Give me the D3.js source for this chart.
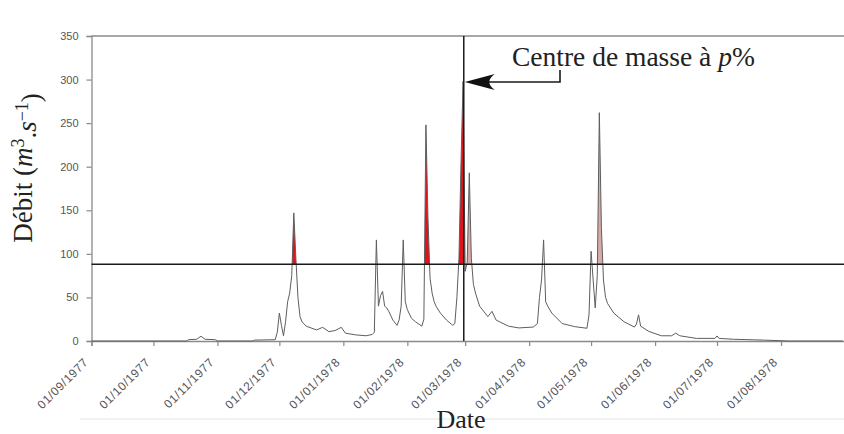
<!DOCTYPE html>
<html>
<head>
<meta charset="utf-8">
<script src="https://cdn.jsdelivr.net/npm/d3@7"></script>
<style>
  body { margin: 0; background: #fff; }
  svg { display: block; }
</style>
</head>
<body>
<svg id="chart" width="844" height="434"></svg>
<script>
// Daily discharge readings (hydrological year 1977-1978)
const flowDates = [
  "1977-09-01","1977-10-17","1977-10-18","1977-10-22","1977-10-24","1977-10-26","1977-10-31","1977-11-01",
  "1977-11-18","1977-11-19","1977-11-29","1977-11-30","1977-12-01","1977-12-02","1977-12-03","1977-12-04",
  "1977-12-05","1977-12-06","1977-12-07","1977-12-08","1977-12-09","1977-12-10","1977-12-11","1977-12-12",
  "1977-12-14","1977-12-19","1977-12-22","1977-12-25","1977-12-28","1977-12-31","1978-01-02","1978-01-07",
  "1978-01-12","1978-01-15","1978-01-16","1978-01-17","1978-01-18","1978-01-19","1978-01-20","1978-01-21",
  "1978-01-22","1978-01-23","1978-01-25","1978-01-27","1978-01-28","1978-01-29","1978-01-30","1978-01-31",
  "1978-02-01","1978-02-03","1978-02-05","1978-02-08","1978-02-09","1978-02-10","1978-02-11","1978-02-12",
  "1978-02-13","1978-02-14","1978-02-15","1978-02-17","1978-02-20","1978-02-23","1978-02-24","1978-02-25",
  "1978-02-26","1978-02-27","1978-02-28","1978-03-01","1978-03-02","1978-03-03","1978-03-04","1978-03-05",
  "1978-03-06","1978-03-08","1978-03-12","1978-03-14","1978-03-16","1978-03-22","1978-03-27","1978-04-03",
  "1978-04-05","1978-04-06","1978-04-07","1978-04-08","1978-04-09","1978-04-10","1978-04-12","1978-04-17",
  "1978-04-23","1978-04-29","1978-04-30","1978-05-01","1978-05-02","1978-05-03","1978-05-04","1978-05-05",
  "1978-05-06","1978-05-07","1978-05-08","1978-05-09","1978-05-12","1978-05-17","1978-05-22","1978-05-23",
  "1978-05-24","1978-05-25","1978-05-29","1978-06-04","1978-06-09","1978-06-11","1978-06-13","1978-06-21",
  "1978-06-30","1978-07-01","1978-07-02","1978-07-09","1978-07-24","1978-08-05","1978-08-31"
];
const flowValues = [
  0, 0, 1.5, 2, 5.5, 2, 1.5, 0,
  0, 1, 1.5, 10, 32, 18, 6, 22,
  45, 55, 75, 147, 95, 50, 28, 22,
  17, 12.7, 15.7, 10.7, 12, 15.7, 9, 7,
  6, 7.5, 10, 116, 40, 52, 57, 40,
  38, 34, 24, 18, 24, 40, 116, 45,
  36, 26, 22, 17, 25, 248, 140, 72,
  55, 45, 39.5, 32, 24, 18, 20, 50,
  95, 205, 298, 80, 90, 193, 95, 65,
  55, 40, 28, 34, 24, 17, 15, 16,
  20, 50, 70, 116, 45, 40, 32, 20,
  16.5, 14.6, 30, 103, 70, 38, 75, 262,
  130, 70, 50, 43, 32, 22, 16, 19.6,
  30, 17, 11, 6, 6, 9, 6, 3,
  3, 5.8, 3, 2, 1, 0, 0
];

const tickDates = ["1977-09-01","1977-10-01","1977-11-01","1977-12-01","1978-01-01","1978-02-01",
                   "1978-03-01","1978-04-01","1978-05-01","1978-06-01","1978-07-01","1978-08-01"];
const yTicks = [0, 50, 100, 150, 200, 250, 300, 350];
const domainStart = "1977-09-01";
const domainEnd = "1978-09-01";

const threshold = 88;                 // flood threshold (m3/s)
const centroidDate = "1978-02-28 08:00";
// flood events above threshold before / after the centre of mass
const redEvents = [["1977-12-05","1977-12-12"],["1978-02-08","1978-02-13"],["1978-02-24","1978-02-28 08:00"]];
const pinkEvents = [["1978-02-28 08:00","1978-03-06"],["1978-05-04","1978-05-08"]];

const parseDay = d3.timeParse("%Y-%m-%d");
const parseTime = d3.timeParse("%Y-%m-%d %H:%M");
const parse = s => parseTime(s) || parseDay(s);

const data = flowDates.map((d, i) => ({ date: parse(d), value: flowValues[i] }));

const plotLeft = 91.5, plotRight = 845, plotTop = 36, plotBottom = 341;
const x = d3.scaleTime().domain([parse(domainStart), parse(domainEnd)]).range([plotLeft, plotRight]);
const y = d3.scaleLinear().domain([0, 350]).range([plotBottom, plotTop]);

const svg = d3.select("#chart");
const serif = "'Liberation Serif', 'Times New Roman', serif";
const sans = "'Liberation Sans', Arial, sans-serif";

// faint page rule
svg.append("line").attr("x1", 80).attr("x2", 844).attr("y1", 419).attr("y2", 419)
  .attr("stroke", "#ececec").attr("stroke-width", 1.5);

// filled flood volumes
const areaGen = d3.area().x(d => x(d.date)).y0(y(0)).y1(d => y(d.value));
const defs = svg.append("defs");
function drawEvents(events, color, prefix) {
  events.forEach((ev, i) => {
    const id = prefix + i;
    defs.append("clipPath").attr("id", id).append("rect")
      .attr("x", x(parse(ev[0]))).attr("width", x(parse(ev[1])) - x(parse(ev[0])))
      .attr("y", plotTop).attr("height", y(threshold) - plotTop);
    svg.append("path").datum(data).attr("d", areaGen)
      .attr("fill", color).attr("clip-path", `url(#${id})`);
  });
}
drawEvents(redEvents, "#e0121c", "clipRed");
drawEvents(pinkEvents, "#d8aaaa", "clipPink");

// frame top
svg.append("line").attr("x1", plotLeft).attr("x2", 844).attr("y1", plotTop).attr("y2", plotTop)
  .attr("stroke", "#8a8a8a").attr("stroke-width", 1.3);

// axes
const yAxis = svg.append("g").attr("transform", `translate(${plotLeft},0)`)
  .call(d3.axisLeft(y).tickValues(yTicks).tickSize(5).tickPadding(8));
const xAxis = svg.append("g").attr("transform", `translate(0,${plotBottom})`)
  .call(d3.axisBottom(x).tickValues(tickDates.map(parse)).tickSize(5)
    .tickFormat(d3.timeFormat("%d/%m/%Y")));
[yAxis, xAxis].forEach(g => {
  g.select(".domain").attr("stroke", "#8a8a8a").attr("stroke-width", 1.3);
  g.selectAll(".tick line").attr("stroke", "#8a8a8a").attr("stroke-width", 1.2);
  g.selectAll("text").attr("fill", "#555").style("font-family", sans).style("font-size", "11px");
});
xAxis.selectAll("text")
  .style("font-size", "12px").style("letter-spacing", "0.6px")
  .attr("text-anchor", "end")
  .attr("transform", "translate(-6,19) rotate(-45)")
  .attr("dy", "0.35em").attr("y", 0);

// hydrograph
svg.append("path").datum(data)
  .attr("d", d3.line().x(d => x(d.date)).y(d => y(d.value)))
  .attr("fill", "none").attr("stroke", "#5e5e5e").attr("stroke-width", 1)
  .attr("stroke-linejoin", "round");

// threshold and centre of mass
svg.append("line").attr("x1", plotLeft).attr("x2", 844).attr("y1", y(threshold)).attr("y2", y(threshold))
  .attr("stroke", "#1a1a1a").attr("stroke-width", 1.5);
const cx = x(parse(centroidDate));
svg.append("line").attr("x1", cx).attr("x2", cx).attr("y1", plotTop).attr("y2", plotBottom)
  .attr("stroke", "#1a1a1a").attr("stroke-width", 1.5);

// annotation arrow
const ay = 82;
svg.append("path")
  .attr("d", `M560,70 V${ay} H${cx + 14}`)
  .attr("fill", "none").attr("stroke", "#1a1a1a").attr("stroke-width", 1.6);
svg.append("path")
  .attr("d", `M${cx + 1},${ay} L${cx + 31},${ay - 8} Q${cx + 20},${ay} ${cx + 31},${ay + 8} Z`)
  .attr("fill", "#111");
const ann = svg.append("text").attr("x", 512).attr("y", 66)
  .style("font-family", serif).style("font-size", "27.5px").attr("fill", "#222");
ann.append("tspan").text("Centre de masse à ");
ann.append("tspan").attr("font-style", "italic").text("p");
ann.append("tspan").text("%");

// axis titles
const yt = svg.append("text")
  .attr("transform", "translate(32,168) rotate(-90)")
  .attr("text-anchor", "middle")
  .style("font-family", serif).style("font-size", "27px").attr("fill", "#222");
yt.append("tspan").text("Débit (");
yt.append("tspan").attr("font-style", "italic").text("m");
yt.append("tspan").attr("dy", "-0.45em").style("font-size", "18px").text("3");
yt.append("tspan").attr("dy", "0.45em").text(".");
yt.append("tspan").attr("font-style", "italic").text("s");
yt.append("tspan").attr("dy", "-0.45em").style("font-size", "18px").text("−1");
yt.append("tspan").attr("dy", "0.45em").text(")");

svg.append("text").attr("x", 461).attr("y", 428).attr("text-anchor", "middle")
  .style("font-family", serif).style("font-size", "26px").attr("fill", "#222").text("Date");
</script>
</body>
</html>
